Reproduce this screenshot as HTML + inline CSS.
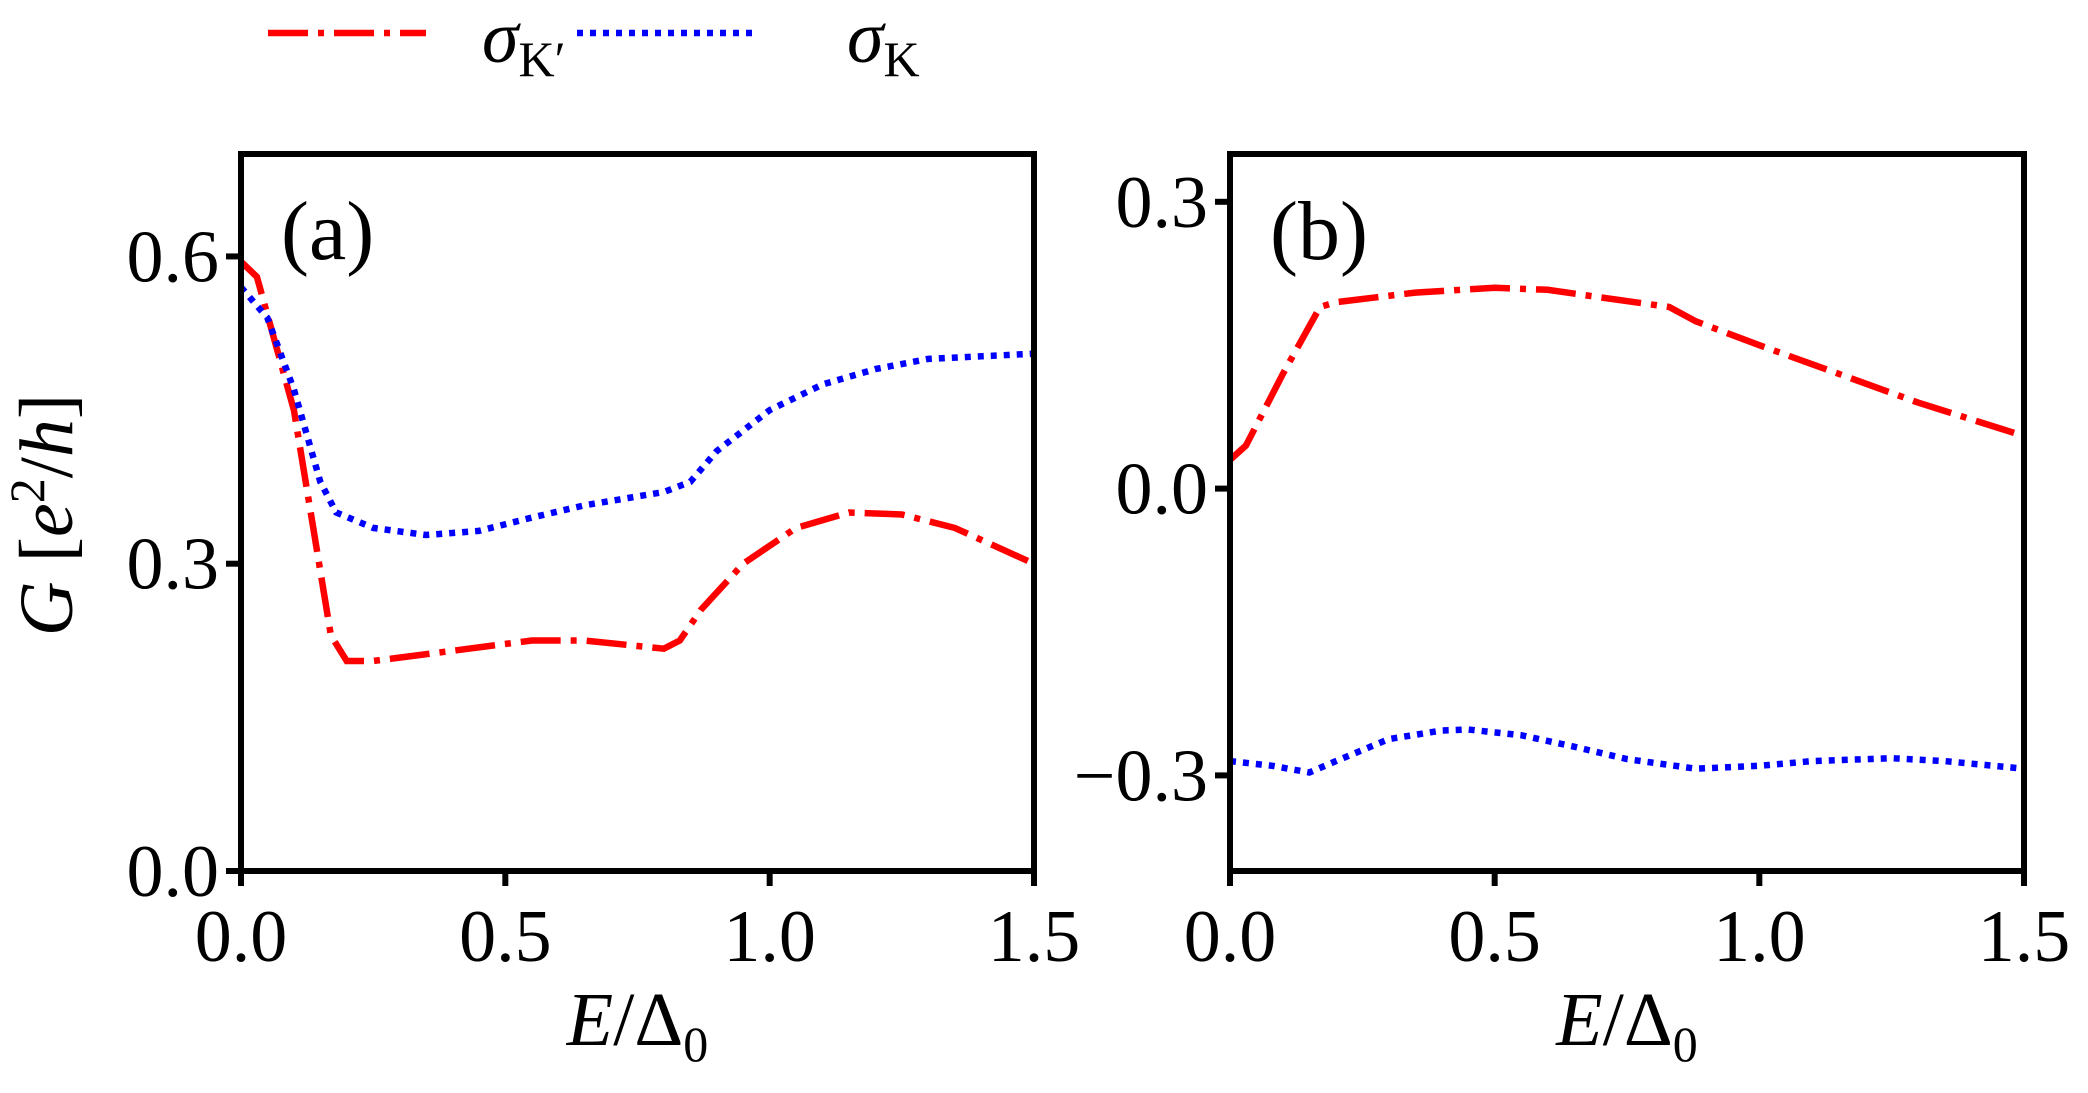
<!DOCTYPE html>
<html><head><meta charset="utf-8"><style>
body{margin:0;background:#fff;}
svg text{font-family:"Liberation Serif","DejaVu Serif",serif;fill:#000;}
</style></head><body>
<svg id="chart" width="2088" height="1088" xmlns="http://www.w3.org/2000/svg"></svg>
<script>
const xTicks=[0,0.5,1.0,1.5];
const xTickLabels=["0.0","0.5","1.0","1.5"];
const aYTicks=[0,0.3,0.6];
const aYTickLabels=["0.0","0.3","0.6"];
const bYTicks=[-0.3,0,0.3];
const bYTickLabels=["\u22120.3","0.0","0.3"];
const aRedX=[0,0.03,0.1,0.17,0.2,0.25,0.4,0.55,0.65,0.8,0.83,0.87,0.95,1.05,1.15,1.25,1.35,1.5];
const aRedY=[0.595,0.58,0.45,0.23,0.205,0.205,0.215,0.225,0.225,0.217,0.225,0.255,0.3,0.335,0.35,0.348,0.335,0.3];
const aBlueX=[0,0.05,0.1,0.15,0.18,0.25,0.35,0.45,0.55,0.65,0.8,0.85,0.9,1.0,1.1,1.2,1.3,1.5];
const aBlueY=[0.57,0.54,0.47,0.38,0.35,0.335,0.328,0.332,0.345,0.357,0.37,0.38,0.41,0.45,0.475,0.49,0.5,0.505];
const bRedX=[0,0.03,0.1,0.17,0.2,0.35,0.5,0.6,0.7,0.83,0.88,1.0,1.1,1.2,1.3,1.5];
const bRedY=[0.03,0.045,0.12,0.19,0.195,0.205,0.21,0.208,0.2,0.19,0.175,0.15,0.13,0.11,0.09,0.055];
const bBlueX=[0,0.08,0.15,0.2,0.3,0.4,0.45,0.55,0.65,0.75,0.88,1.0,1.1,1.25,1.35,1.5];
const bBlueY=[-0.285,-0.29,-0.297,-0.285,-0.262,-0.253,-0.252,-0.258,-0.27,-0.283,-0.293,-0.29,-0.285,-0.282,-0.285,-0.293];

const NS="http://www.w3.org/2000/svg";
const svg=document.getElementById('chart');
function mk(tag,attrs,parent){const e=document.createElementNS(NS,tag);for(const k in attrs)e.setAttribute(k,attrs[k]);(parent||svg).appendChild(e);return e;}

function panel(p){
  const g=mk('g',{});
  
  
  const sx=v=>p.left+(v-0)/(1.5-0)*(p.right-p.left);
  const sy=v=>p.bottom-(v-p.ymin)/(p.ymax-p.ymin)*(p.bottom-p.top);
  const clipId=p.name+'-clip';
  const cp=mk('clipPath',{id:clipId},g);
  mk('rect',{x:p.left,y:p.top,width:p.right-p.left,height:p.bottom-p.top},cp);
  function line(xs,ys,color,dash,nm){
    let d='';xs.forEach((x,i)=>{d+=(i?'L':'M')+sx(x).toFixed(1)+','+sy(ys[i]).toFixed(1);});
    const l=mk('path',{d:d,fill:'none',stroke:color,'stroke-width':6.5,'stroke-dasharray':dash,'clip-path':'url(#'+clipId+')'},g);
    
    
  }
  line(p.redX,p.redY,'#ff0000','40 10 6 10',p.name+'-sigma-kprime-line');
  line(p.blueX,p.blueY,'#0000ff','6 7',p.name+'-sigma-k-line');
  const fr=mk('rect',{x:p.left,y:p.top,width:p.right-p.left,height:p.bottom-p.top,fill:'none',stroke:'#000','stroke-width':6},g);
  
  
  xTicks.forEach((v,i)=>{
    mk('line',{x1:sx(v),x2:sx(v),y1:p.bottom,y2:p.bottom+15,stroke:'#000','stroke-width':6},g);
    const t=mk('text',{x:sx(v),y:p.bottom+90,'text-anchor':'middle','font-size':74},g);
    t.textContent=xTickLabels[i];
    
    
  });
  p.yTicks.forEach((v,i)=>{
    mk('line',{x1:p.left-15,x2:p.left,y1:sy(v),y2:sy(v),stroke:'#000','stroke-width':6},g);
    const t=mk('text',{x:p.left-22,y:sy(v)+25,'text-anchor':'end','font-size':74},g);
    t.textContent=p.yLabels[i];
    
    
  });
  const xl=mk('text',{x:(p.left+p.right)/2,y:1045,'text-anchor':'middle','font-size':76},g);
  xl.innerHTML='<tspan font-style="italic">E</tspan>/Δ<tspan font-size="50" dy="16">0</tspan>';
  
  
  const pl=mk('text',{x:p.left+40,y:p.top+105,'font-size':84},g);
  pl.textContent=p.label;
  
  
}
panel({name:'panel-a',left:241,right:1034,top:154,bottom:871,ymin:0,ymax:0.7,yTicks:aYTicks,yLabels:aYTickLabels,redX:aRedX,redY:aRedY,blueX:aBlueX,blueY:aBlueY,label:'(a)'});
panel({name:'panel-b',left:1230,right:2024,top:154,bottom:871,ymin:-0.4,ymax:0.35,yTicks:bYTicks,yLabels:bYTickLabels,redX:bRedX,redY:bRedY,blueX:bBlueX,blueY:bBlueY,label:'(b)'});

const yt=mk('text',{x:0,y:0,'text-anchor':'middle','font-size':76,transform:'translate(72,515) rotate(-90)'});
yt.innerHTML='<tspan font-style="italic">G</tspan> [<tspan font-style="italic">e</tspan><tspan font-size="50" dy="-28">2</tspan><tspan dy="28">/</tspan><tspan font-style="italic">h</tspan>]';



const lg=mk('g',{});


const l1=mk('line',{x1:268,x2:426,y1:33,y2:33,stroke:'#ff0000','stroke-width':6.5,'stroke-dasharray':'40 10 6 10'},lg);


const t1=mk('text',{x:482,y:62,'font-size':74},lg);
t1.innerHTML='<tspan font-style="italic">σ</tspan><tspan font-size="50" dy="14">K′</tspan>';


const l2=mk('line',{x1:577,x2:756,y1:33,y2:33,stroke:'#0000ff','stroke-width':6.5,'stroke-dasharray':'6 7'},lg);


const t2=mk('text',{x:847,y:62,'font-size':74},lg);
t2.innerHTML='<tspan font-style="italic">σ</tspan><tspan font-size="50" dy="14">K</tspan>';


</script>
</body></html>
